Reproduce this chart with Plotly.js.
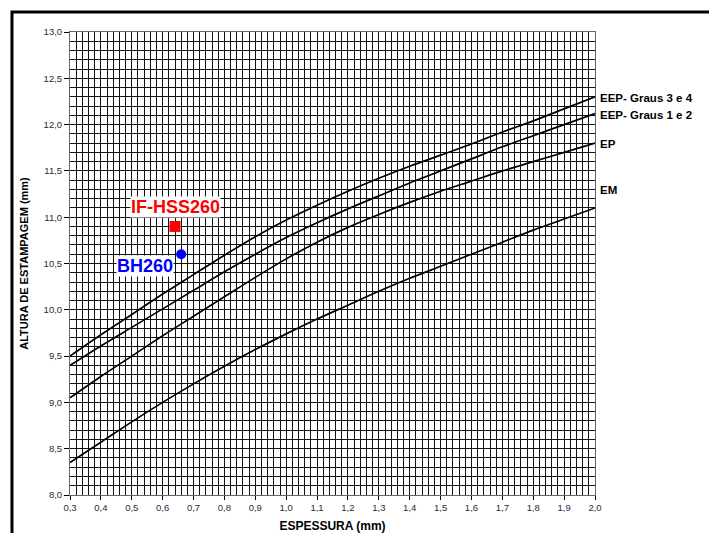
<!DOCTYPE html>
<html>
<head>
<meta charset="utf-8">
<script src="https://cdn.plot.ly/plotly-3.0.1.min.js"></script>
<style>html,body{margin:0;padding:0;background:#fff;}#chart{width:709px;height:533px;}</style>
</head>
<body>
<div id="chart"></div>
<script>
// Thickness (mm)
const thickness = [0.3,0.4,0.5,0.6,0.7,0.8,0.9,1.0,1.1,1.2,1.3,1.4,1.5,1.6,1.7,1.8,1.9,2.0];
// Stamping height curves (mm)
const eep34 = [9.50,9.73,9.95,10.17,10.38,10.59,10.79,10.97,11.13,11.28,11.42,11.55,11.67,11.79,11.92,12.04,12.17,12.30];
const eep12 = [9.40,9.61,9.81,10.01,10.21,10.41,10.60,10.78,10.94,11.09,11.23,11.37,11.50,11.63,11.76,11.88,12.00,12.12];
const ep    = [9.05,9.28,9.50,9.72,9.93,10.14,10.35,10.55,10.73,10.89,11.03,11.16,11.28,11.39,11.50,11.60,11.70,11.80];
const em    = [8.35,8.57,8.79,9.00,9.20,9.39,9.57,9.74,9.90,10.05,10.20,10.34,10.47,10.60,10.73,10.86,10.98,11.10];
const curveNames = ['EEP- Graus 3 e 4','EEP- Graus 1 e 2','EP','EM'];
const curveLabelY = [12.29,12.10,11.79,11.29];
// Measured materials
const matNames = ['IF-HSS260','BH260'];
const matX = [0.64,0.66];
const matY = [10.9,10.6];
const matLabelX = [0.64,0.543];
const matLabelY = [11.11,10.47];
const xTicks = [0.3,0.4,0.5,0.6,0.7,0.8,0.9,1.0,1.1,1.2,1.3,1.4,1.5,1.6,1.7,1.8,1.9,2.0];
const yTicks = [8.0,8.5,9.0,9.5,10.0,10.5,11.0,11.5,12.0,12.5,13.0];

const FONT = 'Arial, "Liberation Sans", sans-serif';
const NARROW = '"Liberation Sans Narrow", "Arial Narrow", Arial, sans-serif';
const curves = [eep34, eep12, ep, em];
const traces = curves.map((c,i)=>({
  x: thickness, y: c, type:'scatter', mode:'lines', name: curveNames[i],
  line:{color:'#000', width:1.7, shape:'spline', smoothing:0.8}, hoverinfo:'skip'
}));
traces.push({x:[matX[0]], y:[matY[0]], type:'scatter', mode:'markers', name:matNames[0],
  marker:{symbol:'square', size:11, color:'#ff0000'}});
traces.push({x:[matX[1]], y:[matY[1]], type:'scatter', mode:'markers', name:matNames[1],
  marker:{symbol:'circle', size:10, color:'#0000ff'}});

const annotations = curveNames.map((n,i)=>({
  xref:'paper', x:1.0, xanchor:'left', xshift:3, yref:'y', y:curveLabelY[i], yanchor:'middle',
  text:'<b>'+n+'</b>', showarrow:false, font:{family:FONT, size:11.5, color:'#000'}
}));
const matColors = ['#ff0000','#0000ff'];
matNames.forEach((n,i)=>annotations.push({
  x:matLabelX[i], y:matLabelY[i], text:'<b>'+n+'</b>', showarrow:false,
  bgcolor:'#fff', borderpad:0, font:{family:FONT, size:18, color:matColors[i]}
}));

const gridC = '#111';
const layout = {
  width:709, height:533,
  margin:{l:70, r:114, t:32, b:38},
  paper_bgcolor:'#fff', plot_bgcolor:'#fff',
  showlegend:false,
  separators:',.',
  font:{family:FONT, size:9, color:'#333'},
  xaxis:{
    range:[0.3,2.0], tickvals:xTicks, tickformat:'.1f',
    showgrid:true, gridcolor:gridC, gridwidth:1,
    minor:{dtick:0.02, tick0:0.3, showgrid:true, gridcolor:gridC, gridwidth:1},
    ticks:'outside', ticklen:4, tickcolor:'#000',
    showline:true, linecolor:'#666', mirror:true, zeroline:false,
    tickfont:{family:FONT, size:9.5, color:'#2a2a3a'},
    title:{text:'<b>ESPESSURA (mm)</b>', font:{family:FONT, size:12, color:'#000'}, standoff:12}
  },
  yaxis:{
    range:[8.0,13.0], tickvals:yTicks, tickformat:'.1f',
    showgrid:true, gridcolor:gridC, gridwidth:1,
    minor:{dtick:0.1, tick0:8.0, showgrid:true, gridcolor:gridC, gridwidth:1},
    ticks:'outside', ticklen:5, tickcolor:'#000',
    showline:true, linecolor:'#666', mirror:true, zeroline:false,
    tickfont:{family:FONT, size:9.5, color:'#2a2a3a'},
    title:{text:'<b>ALTURA DE ESTAMPAGEM (mm)</b>', font:{family:NARROW, size:11, color:'#000'}, standoff:12}
  },
  annotations: annotations,
  shapes:[{type:'rect', xref:'paper', yref:'paper', x0:-0.1105, x1:1.25, y0:-0.12, y1:1.0432,
    line:{color:'#000', width:3}, fillcolor:'rgba(0,0,0,0)', layer:'above'}]
};
Plotly.newPlot('chart', traces, layout, {displayModeBar:false, staticPlot:true});
</script>
</body>
</html>
